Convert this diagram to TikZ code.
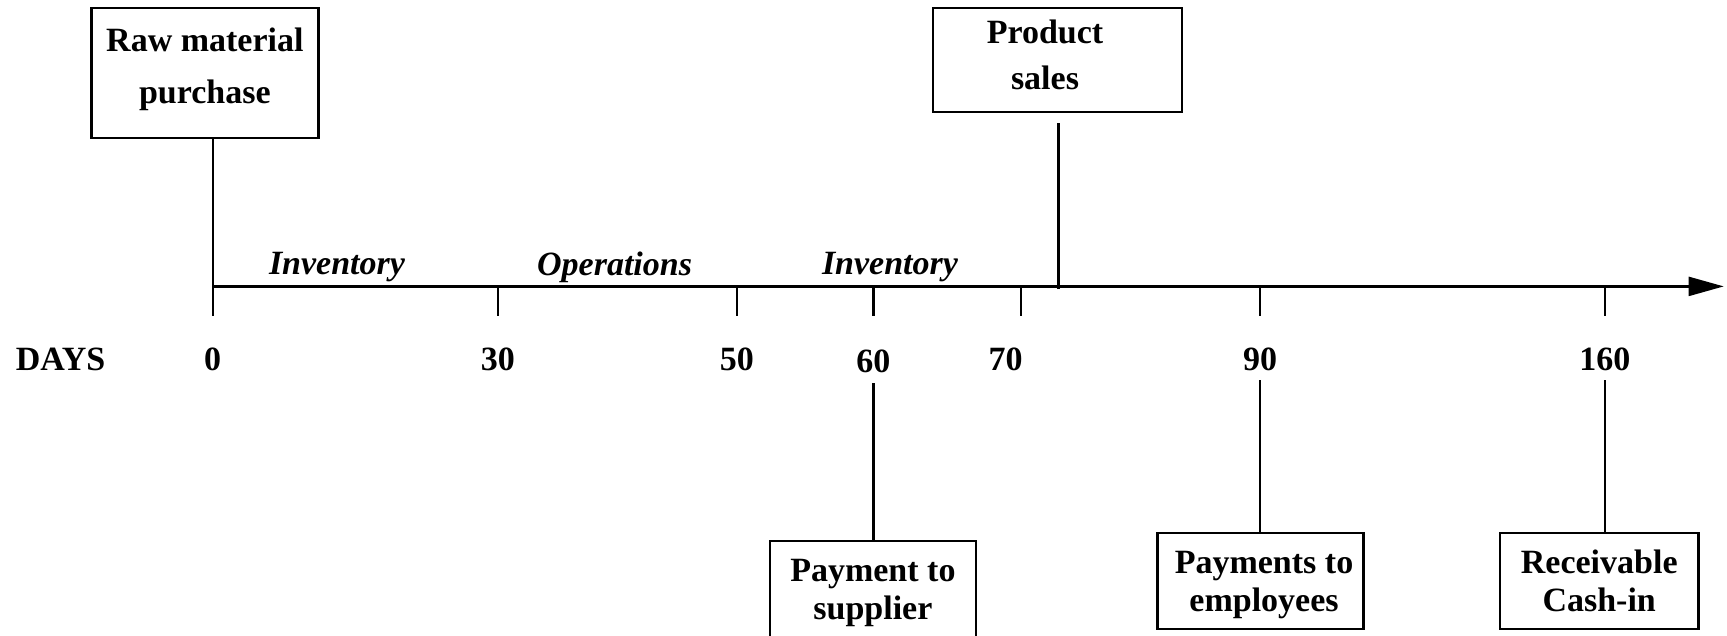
\documentclass[tikz,border=0pt]{standalone}
\usepackage{fontspec}
\setmainfont{Liberation Serif}
\usetikzlibrary{arrows.meta}
\begin{document}
\begin{tikzpicture}[x=0.5pt,y=-0.5pt,
  every node/.style={font=\bfseries\fontsize{17}{20}\selectfont, inner sep=0pt},
  box/.style={draw, line width=1.1pt},
  ln/.style={line width=1.1pt},
  lab/.style={font=\bfseries\itshape\fontsize{17}{20}\selectfont}]
\useasboundingbox (0,0) rectangle (1727,636);
% boxes
\node[box, minimum width=113.5pt, minimum height=65pt] (raw) at (204.9,72.7) {};
\node[align=center, font=\bfseries\fontsize{17}{25.9}\selectfont] (rawT) at (204.9,69.5) {Raw material\\purchase};
\node[box, minimum width=124.5pt, minimum height=52.3pt] (prod) at (1057.4,60) {};
\node[align=center, font=\bfseries\fontsize{17}{23}\selectfont] (prodT) at (1045,55) {Product\\sales};
\node[box, minimum width=103pt, minimum height=54.6pt] (sup) at (872.9,595.4) {};
\node[align=center, font=\bfseries\fontsize{17}{18.75}\selectfont] (supT) at (872.9,593) {Payment to\\supplier};
\node[box, minimum width=103pt, minimum height=48pt] (emp) at (1260.5,581) {};
\node[align=center, font=\bfseries\fontsize{17}{19.3}\selectfont] (empT) at (1264,585) {Payments to\\employees};
\node[box, minimum width=99.2pt, minimum height=48pt] (rec) at (1599.2,581) {};
\node[align=center, font=\bfseries\fontsize{17}{19.3}\selectfont] (recT) at (1599.2,581) {Receivable\\Cash-in};
% axis coordinates
\coordinate (a0) at (212.6,286.4);   \coordinate (b0) at (212.6,316);
\coordinate (a30) at (497.8,286.4);  \coordinate (b30) at (497.8,316);
\coordinate (a50) at (736.8,286.4);  \coordinate (b50) at (736.8,316);
\coordinate (a60) at (873.4,286.4);  \coordinate (b60) at (873.4,316);
\coordinate (a70) at (1021,286.4);   \coordinate (b70) at (1021,316);
\coordinate (a90) at (1260,286.4);   \coordinate (b90) at (1260,316);
\coordinate (a160) at (1604.8,286.4); \coordinate (b160) at (1604.8,316);
\coordinate (aend) at (1723.7,286.4);
% axis
\draw[ln, -{Triangle[length=17.5pt,width=9.5pt]}] (a0) -- (aend);
\draw[ln] (raw.south -| b0) -- (b0);
\foreach \t in {30,50,60,70,90,160} { \draw[ln] (a\t) -- (b\t); }
% product sales line
\coordinate (pTop) at (1058.4,123.4);
\coordinate (pBot) at (1058.4,288.6);
\draw[ln] (pTop) -- (pBot);
% lower connectors
\coordinate (s60) at (873.4,383.3);
\coordinate (s90) at (1260,380);
\coordinate (s160) at (1604.8,380);
\draw[ln] (s60) -- (sup.north -| s60);
\draw[ln] (s90) -- (emp.north -| s90);
\draw[ln] (s160) -- (rec.north -| s160);
% labels
\node[lab] (inv1) at (337,267.5) {Inventory};
\node[lab] (ops) at (614.6,267.5) {Operations};
\node[lab] (inv2) at (890,267.5) {Inventory};
\node (days) at (60.6,359) {DAYS};
\node (d0) at (212.6,359) {0};
\node (d30) at (497.8,359) {30};
\node (d50) at (736.8,359) {50};
\node (d60) at (873.4,361.3) {60};
\node (d70) at (1005.6,359) {70};
\node (d90) at (1260,359) {90};
\node (d160) at (1604.8,359) {160};
\end{tikzpicture}
\end{document}
